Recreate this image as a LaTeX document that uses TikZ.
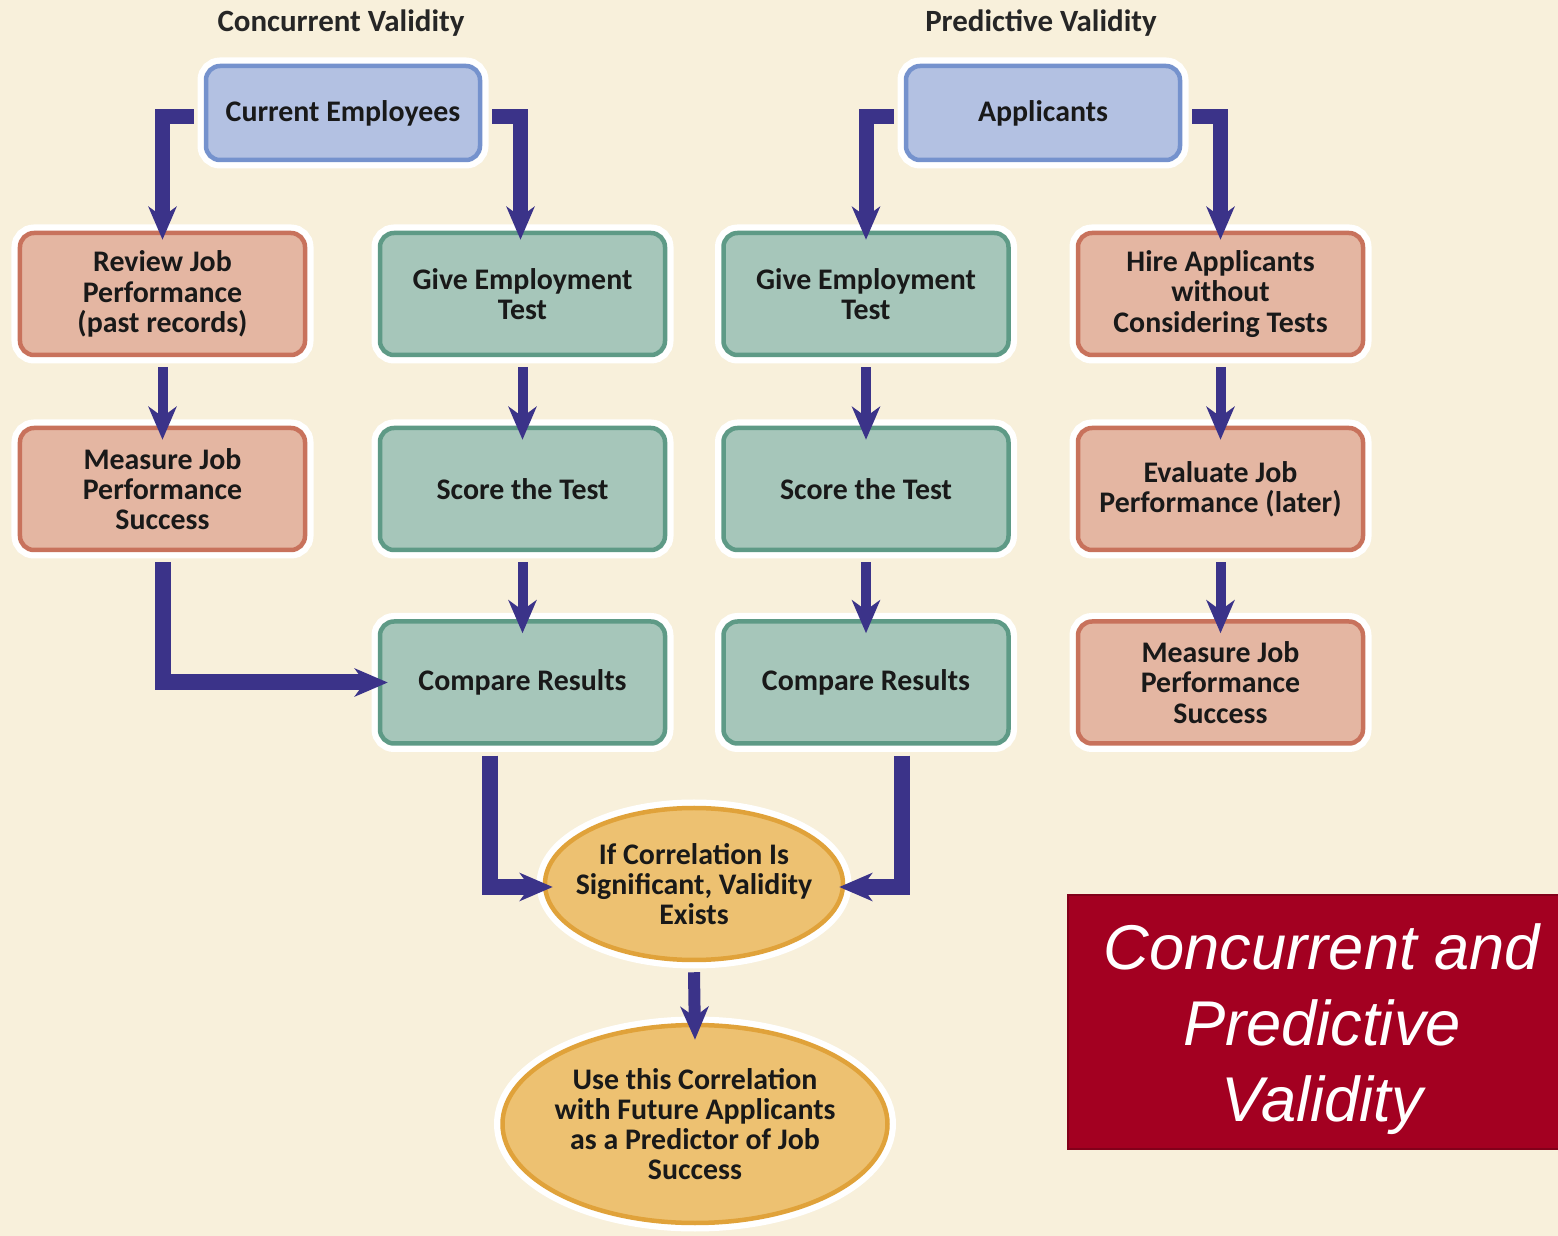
\documentclass[tikz,border=0pt]{standalone}
\usepackage{fontspec}
\setmainfont{Carlito}
\newfontfamily\redfont{Liberation Sans}
\usetikzlibrary{arrows.meta,shapes.geometric}
\definecolor{bg}{HTML}{F8F0DB}
\definecolor{salmon}{HTML}{E4B6A2}
\definecolor{salmonb}{HTML}{C8725C}
\definecolor{grn}{HTML}{A6C6BA}
\definecolor{grnb}{HTML}{5E9A86}
\definecolor{blu}{HTML}{B3C1E2}
\definecolor{blub}{HTML}{7592CD}
\definecolor{org}{HTML}{EDC171}
\definecolor{orgb}{HTML}{E0A23A}
\definecolor{arr}{HTML}{3B3389}
\definecolor{redbox}{HTML}{A30021}
\tikzset{
  boxbase/.style={rounded corners=0.14cm, line width=0.045cm,
    preaction={draw=white, line width=0.17cm},
    minimum width=2.85cm, minimum height=1.22cm, align=center, inner sep=0pt,
    text=black!90, font=\fontsize{8.5}{8.6}\selectfont\bfseries},
  pinkbox/.style={boxbase, fill=salmon, draw=salmonb},
  greenbox/.style={boxbase, fill=grn, draw=grnb},
  bluebox/.style={boxbase, fill=blu, draw=blub, minimum width=2.74cm, minimum height=0.94cm},
  ellbox/.style={ellipse, fill=org, draw=orgb, line width=0.045cm,
    preaction={draw=white, line width=0.17cm}, inner xsep=-0.4cm, inner ysep=-0.2cm,
    align=center, text=black!90, font=\fontsize{8.5}{8.6}\selectfont\bfseries},
  titletext/.style={font=\fontsize{8.8}{9}\selectfont\bfseries, text=black!85, inner sep=0pt},
  flow/.style={draw=arr, line width=#1, line join=miter,
    -{Stealth[length=0.33cm,width=0.28cm,inset=0.1cm]}},
}
\begin{document}
\begin{tikzpicture}
\useasboundingbox (0,0) rectangle (15.58,-12.36);
\fill[bg] (0,0) rectangle (15.58,-12.36);

\node[titletext] (t1) at (3.41,-0.23) {Concurrent Validity};
\node[titletext] (t2) at (10.41,-0.23) {Predictive Validity};

\node[bluebox] (ce) at (3.43,-1.13) {Current Employees};
\node[bluebox] (ap) at (10.43,-1.13) {Applicants};

\node[pinkbox] (rev) at (1.625,-2.94) {Review Job\\Performance\\(past records)};
\node[greenbox] (g1) at (5.225,-2.94) {Give Employment\\Test};
\node[greenbox] (g2) at (8.66,-2.94) {Give Employment\\Test};
\node[pinkbox] (hire) at (12.205,-2.94) {Hire Applicants\\without\\Considering Tests};

\node[pinkbox] (meas1) at (1.625,-4.89) {Measure Job\\Performance\\Success};
\node[greenbox] (s1) at (5.225,-4.89) {Score the Test};
\node[greenbox] (s2) at (8.66,-4.89) {Score the Test};
\node[pinkbox] (eval) at (12.205,-4.89) {Evaluate Job\\Performance (later)};

\node[greenbox] (c1) at (5.225,-6.825) {Compare Results};
\node[greenbox] (c2) at (8.66,-6.825) {Compare Results};
\node[pinkbox] (meas2) at (12.205,-6.825) {Measure Job\\Performance\\Success};

\node[ellbox, minimum width=2.98cm, minimum height=1.52cm] (ell1) at (6.94,-8.84)
  {If Correlation Is\\Significant, Validity\\Exists};
\node[ellbox, minimum width=3.85cm, minimum height=1.98cm] (ell2) at (6.95,-11.24)
  {Use this Correlation\\with Future Applicants\\as a Predictor of Job\\Success};

\node[fill=redbox, draw=redbox!80!black, line width=0.3pt, minimum width=5.08cm,
  minimum height=2.54cm, inner sep=0pt, align=center, text=white,
  font=\redfont\itshape\fontsize{18}{21.6}\selectfont] (rb) at (13.22,-10.22)
  {\rule{0pt}{17pt}Concurrent and\\Predictive\\Validity};

% connectors
\draw[flow=0.15cm] ([xshift=-0.1cm,yshift=-0.04cm]ce.west) -| ([yshift=-0.09cm]rev.north);
\draw[flow=0.15cm] ([xshift=0.1cm,yshift=-0.04cm]ce.east) -| ([xshift=-0.02cm,yshift=-0.09cm]g1.north);
\draw[flow=0.15cm] ([xshift=-0.1cm,yshift=-0.04cm]ap.west) -| ([yshift=-0.09cm]g2.north);
\draw[flow=0.15cm] ([xshift=0.1cm,yshift=-0.04cm]ap.east) -| ([yshift=-0.09cm]hire.north);

\draw[flow=0.1cm] ([yshift=-0.1cm]rev.south) -- ([yshift=-0.14cm]meas1.north);
\draw[flow=0.1cm] ([yshift=-0.1cm]g1.south) -- ([yshift=-0.14cm]s1.north);
\draw[flow=0.1cm] ([yshift=-0.1cm]g2.south) -- ([yshift=-0.14cm]s2.north);
\draw[flow=0.1cm] ([yshift=-0.1cm]hire.south) -- ([yshift=-0.14cm]eval.north);
\draw[flow=0.1cm] ([yshift=-0.1cm]s1.south) -- ([yshift=-0.14cm]c1.north);
\draw[flow=0.1cm] ([yshift=-0.1cm]s2.south) -- ([yshift=-0.14cm]c2.north);
\draw[flow=0.1cm] ([yshift=-0.1cm]eval.south) -- ([yshift=-0.14cm]meas2.north);

\draw[flow=0.16cm] ([yshift=-0.1cm]meas1.south) |- ([xshift=0.1cm]c1.west);
\draw[flow=0.16cm] ([xshift=-0.33cm,yshift=-0.1cm]c1.south) |- ([xshift=0.1cm,yshift=-0.03cm]ell1.west);
\draw[flow=0.16cm] ([xshift=0.36cm,yshift=-0.1cm]c2.south) |- ([xshift=-0.06cm,yshift=-0.03cm]ell1.east);
\draw[flow=0.12cm] ([yshift=-0.1cm]ell1.south) -- ([yshift=-0.17cm]ell2.north);
\end{tikzpicture}
\end{document}
